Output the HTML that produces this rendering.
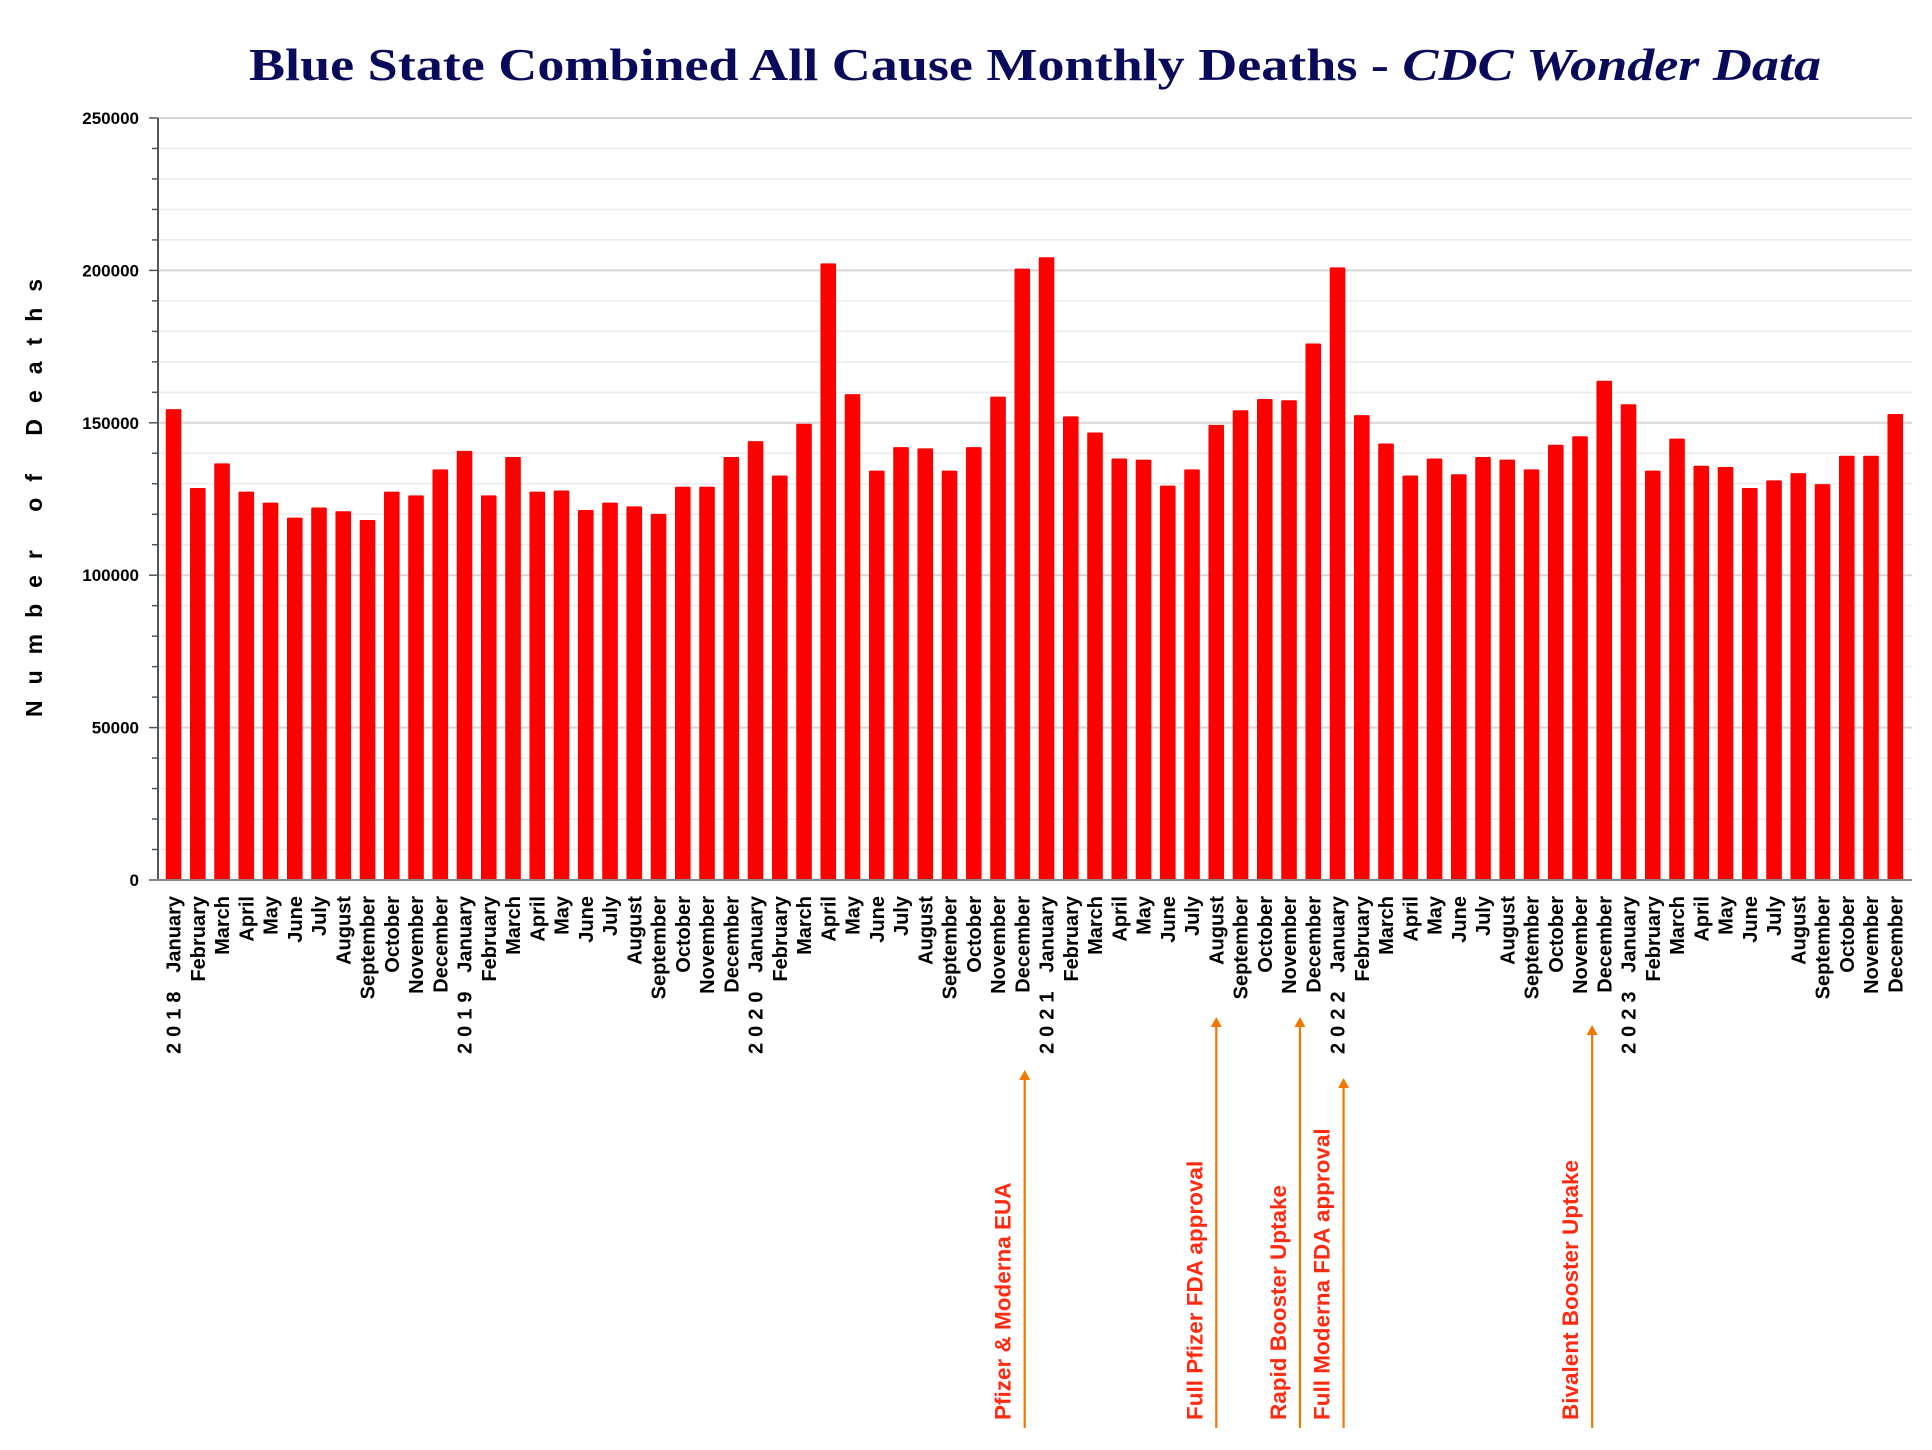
<!DOCTYPE html>
<html><head><meta charset="utf-8">
<style>html,body{margin:0;padding:0;background:#fff}svg{display:block}</style>
</head><body>
<svg id="chart" width="1932" height="1450" viewBox="0 0 1932 1450" xmlns="http://www.w3.org/2000/svg" font-family="Liberation Sans, Arial, sans-serif">
<text x="249" y="80" font-family="Liberation Serif, serif" font-weight="bold" font-size="46" fill="#0a0a5a" textLength="1572" lengthAdjust="spacingAndGlyphs">Blue State Combined All Cause Monthly Deaths - <tspan font-style="italic">CDC Wonder Data</tspan></text>
<text transform="translate(42,490) rotate(-90)" text-anchor="middle" font-weight="bold" font-size="23" letter-spacing="16">Number of Deaths</text>
<g id="grid"></g><g id="bars"></g><g id="axes"></g><g id="xlabels"></g><g id="notes"></g>
</svg>
<script>
const years = ['2018','2019','2020','2021','2022','2023'];
const months = ['January','February','March','April','May','June','July','August','September','October','November','December'];
const deaths = [
154500,128600,136700,127400,123800,118900,122200,121000,118100,127400,126200,134700,
140800,126200,138800,127400,127800,121400,123800,122600,120100,129000,129000,138800,
144000,132700,149700,202300,159400,134300,142000,141600,134300,142000,158600,200600,
204300,152100,146800,138300,137900,129400,134700,149300,154100,157800,157400,176000,
201000,152500,143200,132700,138300,133100,138800,137900,134700,142800,145600,163800,
156100,134300,144800,135900,135500,128600,131100,133500,129900,139200,139200,152900];
const yTicks = [0,50000,100000,150000,200000,250000];
const noteLabels = ['Pfizer & Moderna EUA','Full Pfizer FDA approval','Rapid Booster Uptake','Full Moderna FDA approval','Bivalent Booster Uptake'];
const noteIndex = [35.1, 43.0, 46.45, 48.25, 58.5];

const NS='http://www.w3.org/2000/svg';
const X0=161.4, PITCH=24.25, Y0=880, Y1=118, YMAX=250000;
const xc = i => X0 + PITCH*(i+0.5);
const yv = v => Y0 - (v/YMAX)*(Y0-Y1);
function mk(tag, attrs, parent){const e=document.createElementNS(NS,tag);for(const k in attrs)e.setAttribute(k,attrs[k]);parent.appendChild(e);return e;}
const grid=document.getElementById('grid'), bars=document.getElementById('bars'), axes=document.getElementById('axes'), xl=document.getElementById('xlabels'), notes=document.getElementById('notes');

for(let v=0; v<=YMAX; v+=10000){
  const major = v%50000===0;
  const g=mk('line',{x1:158,x2:1912,y1:yv(v),y2:yv(v),stroke:major?'#d6d6d6':'#ececec','stroke-width':major?2:1.5},grid);
  
  
  const t=mk('line',{x1:major?149:152,x2:158,y1:yv(v),y2:yv(v),stroke:'#555','stroke-width':1.5},axes);
  
  
}
yTicks.forEach(v=>{
  const t=mk('text',{x:139,y:yv(v)+6,'text-anchor':'end','font-weight':'bold','font-size':17},axes);
  t.textContent=String(v);
  
  
});
const ax=mk('line',{x1:158,x2:158,y1:Y1,y2:Y0,stroke:'#555','stroke-width':2},axes);


const bx=mk('line',{x1:150,x2:1912,y1:Y0,y2:Y0,stroke:'#888','stroke-width':2},axes);



deaths.forEach((v,i)=>{
  const r=mk('rect',{x:xc(i)-7.8,y:yv(v),width:15.6,height:Y0-yv(v),fill:'#ff0000',rx:1},bars);
  
  
  const cx=xc(i)+7;
  const t=mk('text',{transform:`translate(${cx},896) rotate(-90)`,'text-anchor':'end','font-weight':'bold','font-size':20},xl);
  t.textContent=months[i%12];
  
  
  if(i%12===0){
    const y=mk('text',{transform:`translate(${cx},1054) rotate(-90)`,'text-anchor':'start','font-weight':'bold','font-size':20,'letter-spacing':6},xl);
    y.textContent=years[i/12];
    
    
  }
});

const arrowTop=[1070,1017,1017,1078,1025];
noteLabels.forEach((s,k)=>{
  const x=xc(noteIndex[k]);
  const l=mk('line',{x1:x,x2:x,y1:arrowTop[k]+8,y2:1428,stroke:'#f07800','stroke-width':2.2},notes);
  
  
  const p=mk('polygon',{points:`${x-5.5},${arrowTop[k]+10} ${x+5.5},${arrowTop[k]+10} ${x},${arrowTop[k]}`,fill:'#f07800'},notes);
  
  
  const t=mk('text',{transform:`translate(${x-14},1420) rotate(-90)`,'font-weight':'bold','font-size':22.5,fill:'#ff2a10'},notes);
  t.textContent=s;
  
  
});
</script>
</body></html>
